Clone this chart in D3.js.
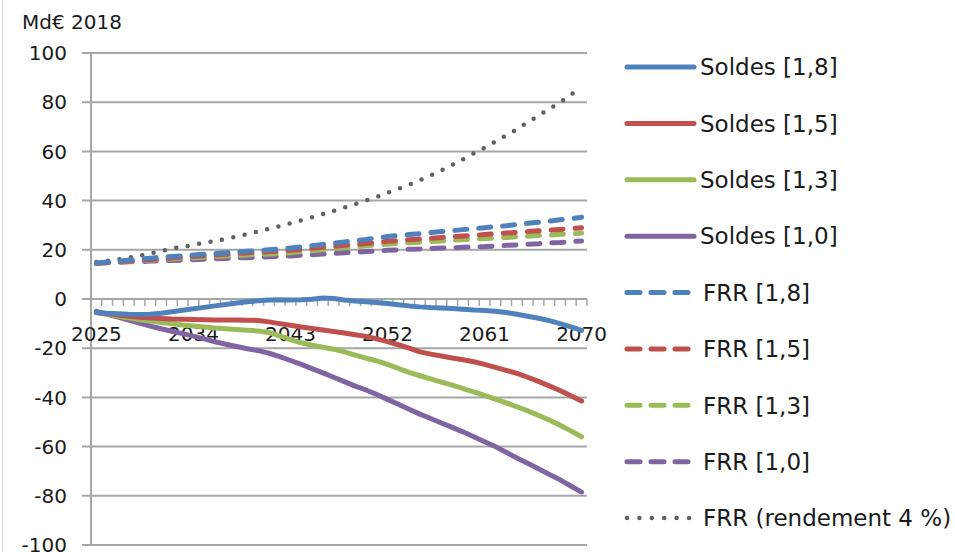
<!DOCTYPE html>
<html>
<head>
<meta charset="utf-8">
<script src="https://cdn.jsdelivr.net/npm/d3@7"></script>
<style>
  body { margin: 0; background: #fff; }
  svg { display: block; }
  text { font-family: "DejaVu Sans", sans-serif; fill: #1a1a1a; }
</style>
</head>
<body>
<svg id="chart" width="955" height="552"></svg>
<script>
// years 2025..2070
var years = [];
for (var yr = 2025; yr <= 2070; yr++) years.push(yr);

var xTickLabels = [2025, 2034, 2043, 2052, 2061, 2070];
var yTicks = [100, 80, 60, 40, 20, 0, -20, -40, -60, -80, -100];

// soldes (solid)
var soldes18 = [-5.5, -5.8, -6, -6.2, -6.3, -6.2, -5.8, -5.2, -4.6, -4, -3.4, -2.8, -2.2, -1.6, -1.1, -0.7,
  -0.4, -0.3, -0.4, -0.3, -0.1, 0.4, 0.2, -0.4, -0.8, -1.1, -1.4, -1.8, -2.3, -2.8, -3.2, -3.5, -3.7,
  -3.9, -4.2, -4.5, -4.7, -5, -5.5, -6.2, -7, -7.8, -8.8, -10, -11.3, -12.8];
var soldes15 = [-5.5, -6, -6.5, -7, -7.4, -7.7, -7.9, -8.1, -8.2, -8.3, -8.4, -8.5, -8.5, -8.5, -8.6, -8.7,
  -9.3, -10, -10.7, -11.4, -12, -12.6, -13.2, -13.8, -14.5, -15.2, -16.2, -17.3, -18.6, -20, -21.5, -22.4,
  -23.2, -24, -24.7, -25.5, -26.6, -27.8, -29, -30.2, -31.8, -33.5, -35.3, -37.2, -39.3, -41.5];
var soldes13 = [-5.5, -6.2, -7, -7.7, -8.4, -9, -9.6, -10.1, -10.6, -11, -11.4, -11.8, -12.1, -12.4, -12.7, -13,
  -13.6, -15, -16.5, -17.8, -18.8, -19.6, -20.4, -21.5, -22.8, -24, -25.2, -26.6, -28.2, -29.8, -31.2, -32.5,
  -33.8, -35, -36.4, -37.8, -39.2, -40.7, -42.2, -43.8, -45.5, -47.3, -49.2, -51.3, -53.6, -56];
var soldes10 = [-5, -6.2, -7.4, -8.6, -9.8, -11, -12.1, -13.1, -14.1, -15.1, -16.2, -17.4, -18.4, -19.3, -20.2, -21,
  -22, -23.4, -25, -26.6, -28.3, -30, -31.8, -33.6, -35.4, -37, -38.8, -40.8, -42.8, -44.8, -46.8, -48.6,
  -50.4, -52.2, -54, -56, -58, -60, -62.3, -64.6, -66.8, -69, -71.3, -73.5, -76, -78.5];

// FRR (dashed)
var frr18 = [14.5, 15, 15.4, 15.8, 16.2, 16.6, 17, 17.3, 17.6, 17.9, 18.2, 18.5, 18.8, 19.1, 19.4, 19.7,
  20, 20.3, 20.7, 21.2, 21.7, 22.2, 22.7, 23.2, 23.7, 24.2, 24.8, 25.4, 25.8, 26.2, 26.6, 27, 27.4, 27.8,
  28.2, 28.6, 29, 29.4, 29.8, 30.3, 30.8, 31.2, 31.7, 32.2, 32.7, 33.2];
var frr15 = [14.5, 14.8, 15.1, 15.4, 15.7, 16, 16.4, 16.7, 17, 17.3, 17.6, 17.9, 18.2, 18.5, 18.8, 19,
  19.2, 19.5, 19.8, 20.2, 20.6, 21, 21.4, 21.8, 22.2, 22.6, 23, 23.5, 23.8, 24.1, 24.4, 24.7, 25, 25.3,
  25.6, 25.9, 26.2, 26.5, 26.8, 27.1, 27.4, 27.7, 28, 28.3, 28.6, 29];
var frr13 = [14.5, 14.8, 15.1, 15.3, 15.6, 15.8, 16.1, 16.3, 16.6, 16.8, 17, 17.2, 17.5, 17.7, 17.9, 18.1,
  18.3, 18.5, 18.8, 19.2, 19.6, 20, 20.4, 20.8, 21.2, 21.6, 22, 22.3, 22.6, 22.9, 23.1, 23.4, 23.6, 23.9,
  24.1, 24.4, 24.6, 24.8, 25, 25.3, 25.5, 25.8, 26, 26.3, 26.5, 26.8];
var frr10 = [14.5, 14.7, 14.9, 15.1, 15.2, 15.4, 15.5, 15.7, 15.8, 16, 16.2, 16.3, 16.5, 16.7, 16.8, 17,
  17.2, 17.3, 17.5, 17.8, 18, 18.3, 18.5, 18.8, 19, 19.3, 19.5, 19.8, 20, 20.2, 20.3, 20.5, 20.7, 20.8,
  21, 21.2, 21.3, 21.5, 21.8, 22, 22.3, 22.5, 22.8, 23, 23.3, 23.6];
var frr4pct = [15, 15.5, 16, 16.8, 17.5, 18.5, 19.5, 20.5, 21.2, 22, 22.8, 23.6, 24.4, 25.4, 26.4, 27.5,
  28.5, 29.6, 30.8, 32, 33.2, 34.5, 35.8, 37.2, 38.6, 40, 41.5, 43.2, 44.8, 46.5, 48.3, 50.2, 52.3, 54.5,
  56.8, 59.2, 61.5, 64, 66.5, 69, 71.8, 74.5, 77.3, 80, 83, 86];

var series = [
  { name: "Soldes [1,8]", values: soldes18, color: "#4f81bd", style: "solid" },
  { name: "Soldes [1,5]", values: soldes15, color: "#c0504d", style: "solid" },
  { name: "Soldes [1,3]", values: soldes13, color: "#9bbb59", style: "solid" },
  { name: "Soldes [1,0]", values: soldes10, color: "#8064a2", style: "solid" },
  { name: "FRR [1,8]", values: frr18, color: "#4f81bd", style: "dash" },
  { name: "FRR [1,5]", values: frr15, color: "#c0504d", style: "dash" },
  { name: "FRR [1,3]", values: frr13, color: "#9bbb59", style: "dash" },
  { name: "FRR [1,0]", values: frr10, color: "#8064a2", style: "dash" },
  { name: "FRR (rendement 4 %)", values: frr4pct, color: "#606060", style: "dot" }
];

var svg = d3.select("#chart");
var gridColor = "#a6a6a6";

var x = d3.scaleBand().domain(years).range([91, 587]).padding(0);
var y = d3.scaleLinear().domain([-100, 100]).range([545, 53]);
var cx = function(d) { return x(d) + x.bandwidth() / 2; };

// chart frame, only left edge visible
svg.append("line")
  .attr("x1", 2.5).attr("x2", 2.5).attr("y1", 0).attr("y2", 552)
  .attr("stroke", "#d9d9d9").attr("stroke-width", 1);

svg.append("text")
  .attr("x", 22).attr("y", 29)
  .style("font-size", "20px")
  .text("Md€ 2018");

// gridlines + y ticks
svg.append("g").selectAll("line")
  .data(yTicks)
  .join("line")
  .attr("x1", 82).attr("x2", 587)
  .attr("y1", function(d) { return y(d); })
  .attr("y2", function(d) { return y(d); })
  .attr("stroke", gridColor).attr("stroke-width", 2);

svg.append("line")
  .attr("x1", 91).attr("x2", 91).attr("y1", y(100)).attr("y2", y(-100))
  .attr("stroke", gridColor).attr("stroke-width", 2);

svg.append("g").selectAll("text")
  .data(yTicks)
  .join("text")
  .attr("x", 67)
  .attr("y", function(d) { return y(d); })
  .attr("dy", "0.36em")
  .attr("text-anchor", "end")
  .style("font-size", "20px")
  .text(function(d) { return d; });

// category tick marks on the zero line
var bounds = years.map(function(d) { return x(d); }).concat([x.range()[1]]);
svg.append("g").selectAll("line")
  .data(bounds)
  .join("line")
  .attr("x1", function(d) { return d; }).attr("x2", function(d) { return d; })
  .attr("y1", y(0)).attr("y2", y(0) + 7)
  .attr("stroke", gridColor).attr("stroke-width", 1.5);

svg.append("g").selectAll("text")
  .data(xTickLabels)
  .join("text")
  .attr("x", cx)
  .attr("y", y(0) + 42)
  .attr("text-anchor", "middle")
  .style("font-size", "20px")
  .text(function(d) { return d; });

// lines
var line = d3.line()
  .x(function(d, i) { return cx(years[i]); })
  .y(function(d) { return y(d); })
  .curve(d3.curveLinear);

function applyStyle(sel, s) {
  sel.attr("fill", "none")
    .attr("stroke", s.color)
    .attr("stroke-width", s.style === "dot" ? 4.5 : 5)
    .attr("stroke-linecap", "round")
    .attr("stroke-linejoin", "round");
  if (s.style === "dash") sel.attr("stroke-dasharray", "12,12");
  if (s.style === "dot") sel.attr("stroke-dasharray", "0,11.6");
}

// draw in reverse so Soldes [1,8] ends on top
series.slice().reverse().forEach(function(s) {
  svg.append("path")
    .datum(s.values)
    .attr("d", line)
    .call(applyStyle, s);
});

// legend
var legend = svg.append("g");
var rowY = d3.scaleLinear().domain([0, 8]).range([67, 518]);
series.forEach(function(s, i) {
  var g = legend.append("g").attr("transform", "translate(0," + rowY(i) + ")");
  var len = s.style === "solid" ? 694 : 689;
  g.append("path")
    .attr("d", "M627,0L" + len + ",0")
    .call(applyStyle, s)
    .attr("stroke-dasharray", s.style === "dash" ? "13,11" : (s.style === "dot" ? "0,12.4" : null));
  g.append("text")
    .attr("x", s.style === "solid" ? 700 : 703)
    .attr("y", 0)
    .attr("dy", "0.36em")
    .style("font-size", "23px")
    .text(s.name);
});
</script>
</body>
</html>
